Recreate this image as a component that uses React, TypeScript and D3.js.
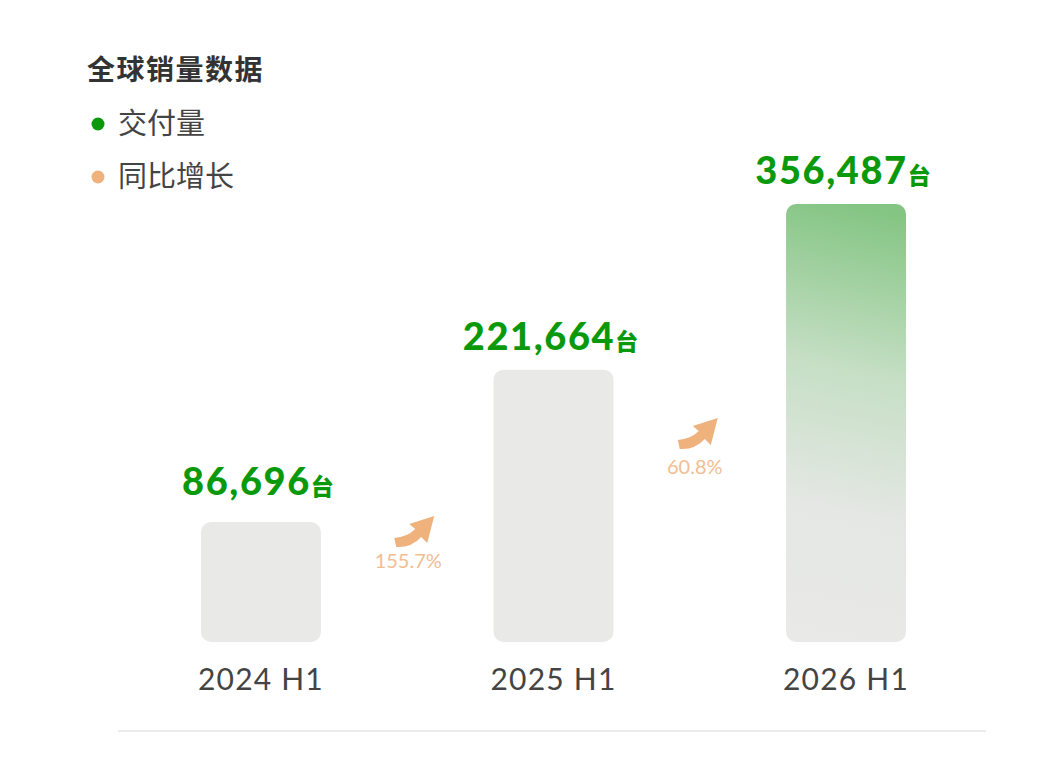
import React, { useEffect, useRef } from 'react';
import * as d3 from 'd3';

const periods = ['2024 H1', '2025 H1', '2026 H1'];
const deliveries = [86696, 221664, 356487];
const growth = ['155.7%', '60.8%'];
const legendLabels = ['交付量', '同比增长'];

const GREEN = '#0a990a';
const ORANGE = '#efb27c';
const BAR_GREY = '#e9e9e7';

const App: React.FC = () => {
  const svgRef = useRef<SVGSVGElement | null>(null);

  useEffect(() => {
    const width = 1062;
    const height = 759;
    const baseY = 642;
    const minBar = 120;
    const svg = d3.select(svgRef.current);
    svg.selectAll('*').remove();
    svg.attr('width', width).attr('height', height);

    const defs = svg.append('defs');
    const grad = defs
      .append('linearGradient')
      .attr('id', 'lastBar')
      .attr('x1', 0.53)
      .attr('y1', 0)
      .attr('x2', 0.47)
      .attr('y2', 1);
    grad.append('stop').attr('offset', 0).attr('stop-color', '#84c583');
    grad.append('stop').attr('offset', 0.38).attr('stop-color', '#c6dfc5');
    grad.append('stop').attr('offset', 0.7).attr('stop-color', '#e4e7e3');
    grad.append('stop').attr('offset', 1).attr('stop-color', BAR_GREY);

    const x = d3
      .scaleBand()
      .domain(periods)
      .range([201, 906])
      .paddingInner(0.59)
      .paddingOuter(0);

    const y = d3
      .scaleLinear()
      .domain([0, d3.max(deliveries)!])
      .range([baseY, 204]);

    const barTop = (v: number) => Math.min(y(v), baseY - minBar);
    // short bars keep their label a little higher above the bar
    const labelY = (v: number) => barTop(v) - (y(v) > baseY - minBar ? 27 : 20);

    // title + legend
    svg
      .append('text')
      .attr('x', 87)
      .attr('y', 80)
      .attr('font-family', '"Noto Sans CJK SC", sans-serif')
      .attr('font-size', 28)
      .attr('font-weight', 700)
      .attr('letter-spacing', 1.5)
      .attr('fill', '#333')
      .text('全球销量数据');

    const legend = svg.append('g');
    legendLabels.forEach((label, i) => {
      const ly = 124 + i * 53;
      legend
        .append('circle')
        .attr('cx', 98)
        .attr('cy', ly)
        .attr('r', 6.5)
        .attr('fill', i === 0 ? GREEN : ORANGE);
      legend
        .append('text')
        .attr('x', 118)
        .attr('y', ly + 10)
        .attr('font-family', '"Noto Sans CJK SC", sans-serif')
        .attr('font-size', 29)
        .attr('fill', '#444')
        .text(label);
    });

    // bars
    svg
      .append('g')
      .selectAll('rect')
      .data(deliveries)
      .join('rect')
      .attr('x', (_, i) => x(periods[i])!)
      .attr('y', (d) => barTop(d))
      .attr('width', x.bandwidth())
      .attr('height', (d) => baseY - barTop(d))
      .attr('rx', 10)
      .attr('fill', (_, i) => (i === deliveries.length - 1 ? 'url(#lastBar)' : BAR_GREY));

    // value labels
    const labels = svg
      .append('g')
      .selectAll('text')
      .data(deliveries)
      .join('text')
      .attr('x', (_, i) => x(periods[i])! + x.bandwidth() / 2 - 3)
      .attr('y', (d) => labelY(d))
      .attr('text-anchor', 'middle')
      .attr('fill', GREEN)
      .attr('font-weight', 900);
    labels
      .append('tspan')
      .attr('font-family', 'Lato, sans-serif')
      .attr('font-size', 38)
      .attr('letter-spacing', 1.6)
      .text((d) => d3.format(',')(d));
    labels
      .append('tspan')
      .attr('font-family', '"Noto Sans CJK SC", sans-serif')
      .attr('font-size', 23)
      .attr('dx', 0)
      .text('台');

    // category labels
    svg
      .append('g')
      .selectAll('text')
      .data(periods)
      .join('text')
      .attr('x', (d) => x(d)! + x.bandwidth() / 2)
      .attr('y', 690)
      .attr('text-anchor', 'middle')
      .attr('font-family', 'Lato, sans-serif')
      .attr('font-size', 30)
      .attr('letter-spacing', 1.2)
      .attr('fill', '#444')
      .text((d) => d);

    // growth arrows between bars
    const arrowPath =
      'M0,0 Q13,-1 21,-9 L15,-14 L40,-22 L33,5 L27,-1 Q17,10 2,9 Z';
    const arrowOffset = [
      [-13, 538],
      [-22, 440],
    ];
    const textOffset = [
      [1, 568],
      [-5, 474],
    ];
    growth.forEach((g, i) => {
      const left = x(periods[i])! + x.bandwidth();
      const right = x(periods[i + 1])!;
      const cx = (left + right) / 2;
      svg
        .append('path')
        .attr('d', arrowPath)
        .attr('transform', `translate(${cx + arrowOffset[i][0]},${arrowOffset[i][1]})`)
        .attr('fill', ORANGE);
      svg
        .append('text')
        .attr('x', cx + textOffset[i][0])
        .attr('y', textOffset[i][1])
        .attr('text-anchor', 'middle')
        .attr('font-family', 'Lato, sans-serif')
        .attr('font-size', 20)
        .attr('fill', '#f2bd90')
        .text(g);
    });

    // bottom rule
    svg
      .append('line')
      .attr('x1', 118)
      .attr('x2', 986)
      .attr('y1', 731)
      .attr('y2', 731)
      .attr('stroke', '#ebebeb')
      .attr('stroke-width', 2);
  }, []);

  return (
    <svg
      ref={svgRef}
      style={{ position: 'absolute', left: 0, top: 0, background: '#fff' }}
    ></svg>
  );
};

export default App;
